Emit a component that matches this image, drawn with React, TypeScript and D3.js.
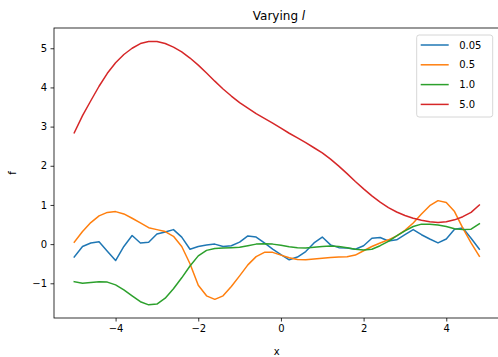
import { useEffect, useRef } from "react"
import * as d3 from "d3"

// sample grid
const xValues = [
  -5.0, -4.8, -4.6, -4.4, -4.2, -4.0, -3.8, -3.6, -3.4, -3.2,
  -3.0, -2.8, -2.6, -2.4, -2.2, -2.0, -1.8, -1.6, -1.4, -1.2,
  -1.0, -0.8, -0.6, -0.4, -0.2, 0.0, 0.2, 0.4, 0.6, 0.8,
  1.0, 1.2, 1.4, 1.6, 1.8, 2.0, 2.2, 2.4, 2.6, 2.8,
  3.0, 3.2, 3.4, 3.6, 3.8, 4.0, 4.2, 4.4, 4.6, 4.8,
]

const lengthScales = ["0.05", "0.5", "1.0", "5.0"]

const sample005 = [
  -0.33, -0.06, 0.03, 0.06, -0.18, -0.42, -0.06, 0.22, 0.03, 0.05,
  0.26, 0.31, 0.37, 0.18, -0.13, -0.06, -0.02, 0.0, -0.06, -0.04,
  0.05, 0.21, 0.18, 0.03, -0.13, -0.27, -0.4, -0.33, -0.19, 0.03,
  0.18, -0.02, -0.09, -0.1, -0.13, -0.04, 0.15, 0.17, 0.08, 0.11,
  0.24, 0.37, 0.24, 0.13, 0.03, 0.13, 0.38, 0.41, 0.15, -0.13,
]

const sample05 = [
  0.05, 0.32, 0.55, 0.72, 0.81, 0.83, 0.77, 0.66, 0.54, 0.42,
  0.37, 0.32, 0.2, -0.06, -0.5, -1.05, -1.32, -1.41, -1.32, -1.08,
  -0.81, -0.53, -0.32, -0.21, -0.21, -0.28, -0.35, -0.39, -0.4, -0.38,
  -0.36, -0.34, -0.33, -0.32, -0.28, -0.17, -0.06, 0.03, 0.11, 0.21,
  0.35, 0.54, 0.77, 0.98, 1.11, 1.06, 0.83, 0.41, 0.03, -0.31,
]

const sample10 = [
  -0.96, -1.0, -0.98, -0.96, -0.97, -1.04, -1.17, -1.32, -1.47, -1.55,
  -1.53, -1.38, -1.14, -0.86, -0.56, -0.3, -0.16, -0.11, -0.1, -0.09,
  -0.08, -0.04, 0.0, 0.01, 0.0, -0.03, -0.07, -0.09, -0.1, -0.08,
  -0.06, -0.05, -0.06, -0.09, -0.13, -0.15, -0.13, -0.04, 0.07, 0.21,
  0.34, 0.45, 0.51, 0.51, 0.49, 0.45, 0.39, 0.37, 0.38, 0.52,
]

const sample50 = [
  2.84, 3.28, 3.66, 4.03, 4.36, 4.63, 4.84, 5.0, 5.12, 5.17,
  5.17, 5.12, 5.03, 4.91, 4.75, 4.57, 4.37, 4.16, 3.96, 3.78,
  3.61, 3.47, 3.33, 3.21, 3.09, 2.96, 2.83, 2.71, 2.59, 2.46,
  2.33, 2.17, 1.99, 1.8, 1.6, 1.41, 1.23, 1.07, 0.93, 0.82,
  0.73, 0.66, 0.61, 0.57, 0.55, 0.57, 0.62, 0.7, 0.81, 1.0,
]

const xTicks = [-4, -2, 0, 2, 4]
const yTicks = [-1, 0, 1, 2, 3, 4, 5]

const colors = ["#1f77b4", "#ff7f0e", "#2ca02c", "#d62728"]

export default function App() {
  const svgRef = useRef<SVGSVGElement>(null)

  useEffect(() => {
    if (!svgRef.current) return
    const W = 498
    const H = 357
    const left = 54
    const right = 499.6
    const top = 28
    const bottom = 318
    const font = "DejaVu Sans, sans-serif"
    const fmt = (d: number) => (d < 0 ? "\u2212" + Math.abs(d) : String(d))

    const root = d3.select(svgRef.current)
    root.selectAll("*").remove()
    root.attr("width", W).attr("height", H)

    const x = d3.scaleLinear().domain([-5.49, 5.29]).range([left, right])
    const y = d3.scaleLinear().domain([-1.886, 5.517]).range([bottom, top])

    const series = [sample005, sample05, sample10, sample50]

    const clip = root.append("defs").append("clipPath").attr("id", "plot-clip")
    clip.append("rect").attr("x", left).attr("y", top).attr("width", right - left).attr("height", bottom - top)

    const line = d3
      .line<number>()
      .x((_, i) => x(xValues[i]))
      .y((d) => y(d))

    const plot = root.append("g").attr("clip-path", "url(#plot-clip)")
    series.forEach((s, i) => {
      plot
        .append("path")
        .datum(s)
        .attr("d", line)
        .attr("fill", "none")
        .attr("stroke", colors[i])
        .attr("stroke-width", 1.5)
        .attr("stroke-linejoin", "round")
        .attr("stroke-linecap", "square")
    })

    // axes
    const xAxis = root
      .append("g")
      .attr("transform", `translate(0,${bottom})`)
      .call(d3.axisBottom(x).tickValues(xTicks).tickSize(3.5).tickPadding(3.5).tickFormat((d) => fmt(+d)))
    const yAxis = root
      .append("g")
      .attr("transform", `translate(${left},0)`)
      .call(d3.axisLeft(y).tickValues(yTicks).tickSize(3.5).tickPadding(3.5).tickFormat((d) => fmt(+d)))
    ;[xAxis, yAxis].forEach((a) => {
      a.select(".domain").remove()
      a.selectAll("line").attr("stroke", "#000").attr("stroke-width", 0.8)
      a.selectAll("text").attr("font-family", font).attr("font-size", 10).attr("fill", "#000")
    })

    // spines
    root
      .append("rect")
      .attr("x", left)
      .attr("y", top)
      .attr("width", right - left)
      .attr("height", bottom - top)
      .attr("fill", "none")
      .attr("stroke", "#000")
      .attr("stroke-width", 0.8)

    // labels
    root
      .append("text")
      .attr("x", (left + right) / 2)
      .attr("y", 355)
      .attr("text-anchor", "middle")
      .attr("font-family", font)
      .attr("font-size", 10)
      .text("x")
    root
      .append("text")
      .attr("transform", `translate(16,${(top + bottom) / 2}) rotate(-90)`)
      .attr("text-anchor", "middle")
      .attr("font-family", font)
      .attr("font-size", 10)
      .text("f")

    const title = root
      .append("text")
      .attr("x", 279)
      .attr("y", 20)
      .attr("text-anchor", "middle")
      .attr("font-family", font)
      .attr("font-size", 12)
    title.append("tspan").text("Varying ")
    title.append("tspan").attr("font-style", "italic").text("l")

    // legend
    const legend = root.append("g").attr("transform", "translate(416.7,35)")
    legend
      .append("rect")
      .attr("width", 76)
      .attr("height", 82)
      .attr("rx", 2.5)
      .attr("fill", "#fff")
      .attr("fill-opacity", 0.8)
      .attr("stroke", "#cccccc")
      .attr("stroke-width", 0.8)
    lengthScales.forEach((label, i) => {
      const ly = 10 + i * 19.8
      legend
        .append("line")
        .attr("x1", 4)
        .attr("x2", 32)
        .attr("y1", ly)
        .attr("y2", ly)
        .attr("stroke", colors[i])
        .attr("stroke-width", 1.5)
      legend
        .append("text")
        .attr("x", 42.5)
        .attr("y", ly + 3.6)
        .attr("font-family", font)
        .attr("font-size", 10)
        .text(label)
    })
  }, [])

  return <svg ref={svgRef} style={{ position: "absolute", left: 0, top: 0 }} />
}
